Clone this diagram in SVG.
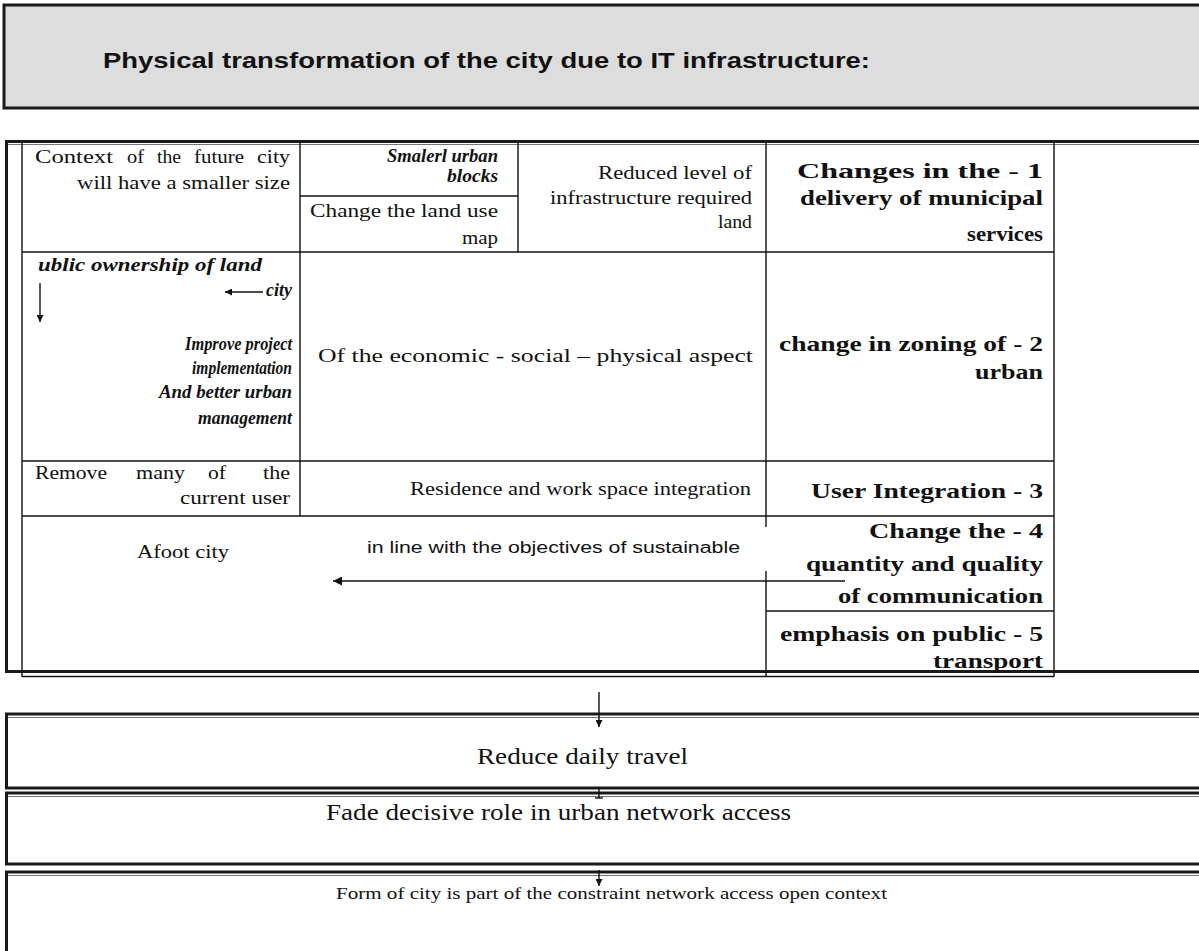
<svg xmlns="http://www.w3.org/2000/svg" width="1199" height="951" viewBox="0 0 1199 951">
<style>
.ln{stroke:#111;stroke-width:1.4;fill:none}
.thk{stroke:#1a1a1a;stroke-width:3;fill:none}
.thin{stroke:#777;stroke-width:1;fill:none}
.box{fill:#fff;stroke:#1a1a1a;stroke-width:3}
.s{font-family:"Liberation Serif","Times New Roman",serif;fill:#111}
.r{font-size:19px}
.b{font-size:22px;font-weight:bold}
.bi{font-size:19px;font-weight:bold;font-style:italic}
.big{font-size:24px}
.sans{font-family:"Liberation Sans",Arial,sans-serif;fill:#111}
</style>
<defs>
<marker id="ah" viewBox="0 0 10 10" refX="10" refY="5" markerWidth="7" markerHeight="7" markerUnits="userSpaceOnUse" orient="auto"><path d="M0,0 L10,5 L0,10 z" fill="#111"/></marker>
<marker id="ah2" viewBox="0 0 10 10" refX="10" refY="5" markerWidth="9" markerHeight="9" markerUnits="userSpaceOnUse" orient="auto"><path d="M0,0 L10,5 L0,10 z" fill="#111"/></marker>
</defs>

<g id="header">
<rect x="4" y="5" width="1210" height="103" fill="#dddddd" stroke="#1a1a1a" stroke-width="3"/>
<text class="sans" x="103" y="68" font-size="22" font-weight="bold" textLength="767" lengthAdjust="spacingAndGlyphs">Physical transformation of the city due to IT infrastructure:</text>
</g>

<g id="table-frame">
<line class="thk" x1="5" y1="141.5" x2="1199" y2="141.5"/>
<line class="thin" x1="8" y1="144.5" x2="1199" y2="144.5"/>
<line class="thk" x1="6.5" y1="141" x2="6.5" y2="673"/>
<line class="thk" x1="5" y1="671.5" x2="1199" y2="671.5"/>
<line class="ln" x1="22" y1="142" x2="22" y2="677"/>
<line class="ln" x1="22" y1="676.5" x2="1054" y2="676.5"/>
<line class="ln" x1="1054" y1="142" x2="1054" y2="677"/>
<line class="ln" x1="22" y1="252" x2="1054" y2="252"/>
<line class="ln" x1="22" y1="461" x2="1054" y2="461"/>
<line class="ln" x1="22" y1="516" x2="1054" y2="516"/>
<line class="ln" x1="300" y1="142" x2="300" y2="516"/>
<line class="ln" x1="300" y1="196" x2="518" y2="196"/>
<line class="ln" x1="518" y1="142" x2="518" y2="252"/>
<line class="ln" x1="766" y1="142" x2="766" y2="527"/>
<line class="ln" x1="766" y1="571" x2="766" y2="677"/>
<line class="ln" x1="766" y1="611" x2="1054" y2="611"/>
</g>

<g id="row1">
<text class="s r" y="163"><tspan x="35" textLength="78" lengthAdjust="spacingAndGlyphs">Context</tspan> <tspan x="127" textLength="17" lengthAdjust="spacingAndGlyphs">of</tspan> <tspan x="157" textLength="24" lengthAdjust="spacingAndGlyphs">the</tspan> <tspan x="194" textLength="50" lengthAdjust="spacingAndGlyphs">future</tspan> <tspan x="257" textLength="33" lengthAdjust="spacingAndGlyphs">city</tspan></text>
<text class="s r" x="77" y="189" textLength="213" lengthAdjust="spacingAndGlyphs">will have a smaller size</text>
<text class="s bi" x="387" y="162" textLength="111" lengthAdjust="spacingAndGlyphs">Smalerl urban</text>
<text class="s bi" x="447" y="182" textLength="51" lengthAdjust="spacingAndGlyphs">blocks</text>
<text class="s r" x="310" y="217" textLength="188" lengthAdjust="spacingAndGlyphs">Change the land use</text>
<text class="s r" x="462" y="244" textLength="36" lengthAdjust="spacingAndGlyphs">map</text>
<text class="s r" x="598" y="179" textLength="154" lengthAdjust="spacingAndGlyphs">Reduced level of</text>
<text class="s r" x="550" y="204" textLength="202" lengthAdjust="spacingAndGlyphs">infrastructure required</text>
<text class="s r" x="718" y="228" textLength="34" lengthAdjust="spacingAndGlyphs">land</text>
<text class="s b" x="797" y="178" textLength="246" lengthAdjust="spacingAndGlyphs">Changes in the - 1</text>
<text class="s b" x="800" y="205" textLength="243" lengthAdjust="spacingAndGlyphs">delivery of municipal</text>
<text class="s b" x="967" y="241" textLength="76" lengthAdjust="spacingAndGlyphs">services</text>
</g>

<g id="row2">
<text class="s bi" x="38" y="271" textLength="224" lengthAdjust="spacingAndGlyphs">ublic ownership of land</text>
<text class="s bi" x="266" y="296" textLength="26" lengthAdjust="spacingAndGlyphs">city</text>
<text class="s bi" x="185" y="350" textLength="107" lengthAdjust="spacingAndGlyphs">Improve project</text>
<text class="s bi" x="192" y="374" textLength="100" lengthAdjust="spacingAndGlyphs">implementation</text>
<text class="s bi" x="159" y="398" textLength="133" lengthAdjust="spacingAndGlyphs">And better urban</text>
<text class="s bi" x="198" y="424" textLength="94" lengthAdjust="spacingAndGlyphs">management</text>
<text class="s r" x="318" y="362" textLength="435" lengthAdjust="spacingAndGlyphs">Of the economic - social – physical aspect</text>
<text class="s b" x="779" y="351" textLength="264" lengthAdjust="spacingAndGlyphs">change in zoning of  - 2</text>
<text class="s b" x="975" y="379" textLength="68" lengthAdjust="spacingAndGlyphs">urban</text>
</g>

<g id="row3">
<text class="s r" y="479"><tspan x="35" textLength="72" lengthAdjust="spacingAndGlyphs">Remove</tspan> <tspan x="136" textLength="49" lengthAdjust="spacingAndGlyphs">many</tspan> <tspan x="208" textLength="18" lengthAdjust="spacingAndGlyphs">of</tspan> <tspan x="263" textLength="27" lengthAdjust="spacingAndGlyphs">the</tspan></text>
<text class="s r" x="180" y="504" textLength="110" lengthAdjust="spacingAndGlyphs">current user</text>
<text class="s r" x="410" y="495" textLength="341" lengthAdjust="spacingAndGlyphs">Residence and work space integration</text>
<text class="s b" x="811" y="498" textLength="232" lengthAdjust="spacingAndGlyphs">User Integration - 3</text>
</g>

<g id="row4">
<text class="s r" x="137" y="558" textLength="92" lengthAdjust="spacingAndGlyphs">Afoot city</text>
<text class="sans" x="367" y="553" font-size="16" textLength="373" lengthAdjust="spacingAndGlyphs">in line with the objectives of sustainable</text>
<text class="s b" x="869" y="538" textLength="174" lengthAdjust="spacingAndGlyphs">Change the  - 4</text>
<text class="s b" x="806" y="571" textLength="237" lengthAdjust="spacingAndGlyphs">quantity and quality</text>
<text class="s b" x="838" y="603" textLength="205" lengthAdjust="spacingAndGlyphs">of communication</text>
<text class="s b" x="780" y="641" textLength="263" lengthAdjust="spacingAndGlyphs">emphasis on public - 5</text>
<text class="s b" x="933" y="668" textLength="110" lengthAdjust="spacingAndGlyphs">transport</text>
</g>

<g id="box-reduce">
<rect class="box" x="6.5" y="714" width="1210" height="74"/>
<line class="thin" x1="8" y1="717.5" x2="1199" y2="717.5"/>
<text class="s big" x="477" y="764" textLength="211" lengthAdjust="spacingAndGlyphs">Reduce daily travel</text>
</g>

<g id="box-fade">
<rect class="box" x="6.5" y="793" width="1210" height="71"/>
<line class="thin" x1="8" y1="796.5" x2="1199" y2="796.5"/>
<text class="s big" x="326" y="820" textLength="465" lengthAdjust="spacingAndGlyphs">Fade decisive role in urban network access</text>
</g>

<g id="box-form">
<rect class="box" x="6.5" y="872" width="1210" height="90"/>
<line class="thin" x1="8" y1="875.5" x2="1199" y2="875.5"/>
<text class="s" x="336" y="899" font-size="16" textLength="551" lengthAdjust="spacingAndGlyphs">Form of city is part of the constraint network access open context</text>
</g>

<g id="connectors">
<line class="ln" x1="40" y1="283" x2="40" y2="322" marker-end="url(#ah)"/>
<line class="ln" x1="263" y1="292" x2="225" y2="292" marker-end="url(#ah)"/>
<line class="ln" x1="845" y1="581" x2="333" y2="581" marker-end="url(#ah2)"/>
<line class="ln" x1="599" y1="692" x2="599" y2="727" marker-end="url(#ah)"/>
<line class="ln" x1="599" y1="788" x2="599" y2="798"/>
<line class="ln" x1="595" y1="798" x2="603" y2="798"/>
<line class="ln" x1="599" y1="870" x2="599" y2="886" marker-end="url(#ah)"/>
</g>
</svg>
